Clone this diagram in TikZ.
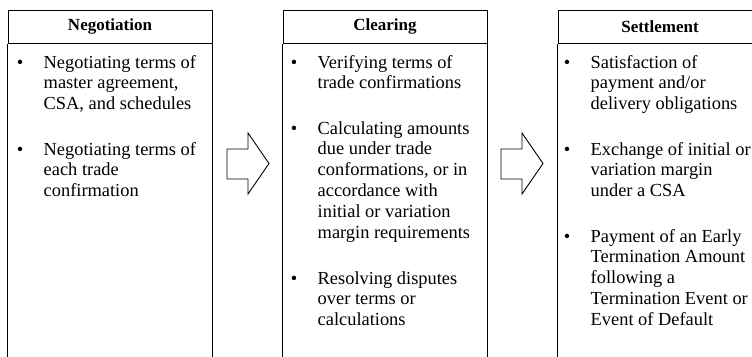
\documentclass[tikz,border=0pt]{standalone}
\usepackage{fontspec}
\setmainfont{Liberation Serif}
\usetikzlibrary{positioning}

\tikzset{
  stagehead/.style={draw, line width=1pt, minimum width=204pt, minimum height=33pt,
    inner sep=0pt, font=\fontsize{17}{20}\selectfont\bfseries},
  itemtext/.style={anchor=base west, align=left, inner sep=0pt,
    font=\fontsize{18.4}{20.8}\selectfont},
  itembullet/.style={anchor=base, inner sep=0pt, font=\fontsize{18.4}{20.8}\selectfont},
  blockarrow/.style={draw, line width=0.9pt, line join=miter}
}

\begin{document}
\begin{tikzpicture}[x=1pt,y=-1pt]
        \useasboundingbox (0,0) rectangle (752,356);
        \clip (0,0) rectangle (752,356);

        % stage headers
        \node[stagehead] (neg) at (110,26.5) {Negotiation};
        \node[stagehead, right=70pt of neg] (clr) {Clearing};
        \node[stagehead, right=70pt of clr] (stl) {Settlement};

        % box sides running off the bottom
        \foreach \n in {neg,clr,stl} {
            \draw[line width=1pt] (\n.south west) -- ++(0,330);
            \draw[line width=1pt] (\n.south east) -- ++(0,330);
        }

        % arrows between the stages
        \foreach \dx in {0,274}
            \draw[blockarrow,xshift=\dx pt] (227,149) -- (248,149) -- (248,133) -- (269,163.5)
                -- (248,194) -- (248,179) -- (227,179) -- cycle;

        % bullets
        \foreach \x/\y in {20/68, 20/155, 294/68, 294/134, 294/284, 567/68, 567/155, 567/242}
            \node[itembullet] at (\x,\y) {•};

        % negotiation (anchored at the last line)
        \node[itemtext] (neg1) at (43.5,109.6) {Negotiating terms of\\master agreement,\\CSA, and schedules};
        \node[itemtext] (neg2) at (43.5,196.6) {Negotiating terms of\\each trade\\confirmation};

        % clearing
        \node[itemtext] (clr1) at (317.5,88.8) {Verifying terms of\\trade confirmations};
        \node[itemtext] (clr2) at (317.5,238) {Calculating amounts\\due under trade\\conformations, or in\\accordance with\\initial or variation\\margin requirements};
        \node[itemtext] (clr3) at (317.5,325.6) {Resolving disputes\\over terms or\\calculations};

        % settlement
        \node[itemtext] (stl1) at (590.5,109.6) {Satisfaction of\\payment and/or\\delivery obligations};
        \node[itemtext] (stl2) at (590.5,196.6) {Exchange of initial or\\variation margin\\under a CSA};
        \node[itemtext] (stl3) at (590.5,325.2) {Payment of an Early\\Termination Amount\\following a\\Termination Event or\\Event of Default};
    \end{tikzpicture}
\end{document}
